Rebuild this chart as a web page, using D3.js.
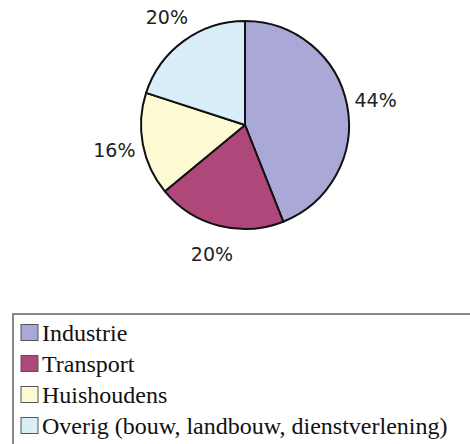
<!DOCTYPE html>
<meta charset="utf-8">
<html>
<head>
    <title>Energieverbruik per sector</title>
    <script type="text/javascript" src="https://cdn.jsdelivr.net/npm/d3@7/dist/d3.min.js"></script>
    <style type="text/css">
        html, body {
            padding: 0px;
            margin: 0px;
            background: #fff;
        }
    </style>
</head>
<body>
    <svg id="svg"></svg>
    <script type="text/javascript">
        // data
        var categories = ["Industrie", "Transport", "Huishoudens", "Overig (bouw, landbouw, dienstverlening)"]
        var values = [44, 20, 16, 20]
        var colors = ["#aaa8d6", "#b0477b", "#fdfbd4", "#d9eef8"]

        var width = 470
        var height = 444
        var svg = d3.select('#svg').attr('width', width).attr('height', height)

        var cx = 245, cy = 125, radius = 104, labelRadius = 133

        var pie = d3.pie().sort(null).value(function (d) { return d })
        var arcs = pie(values)
        var arc = d3.arc().innerRadius(0).outerRadius(radius)
        var labelArc = d3.arc().innerRadius(labelRadius).outerRadius(labelRadius)

        var g = svg.append('g').attr('transform', 'translate(' + cx + ',' + cy + ')')

        g.selectAll('path')
          .data(arcs)
          .enter().append('path')
            .attr('d', arc)
            .attr('fill', function (d, i) { return colors[i] })
            .attr('stroke', '#111')
            .attr('stroke-width', 2)
            .attr('stroke-linejoin', 'round')

        g.selectAll('text')
          .data(arcs)
          .enter().append('text')
            .attr('transform', function (d) { return 'translate(' + labelArc.centroid(d) + ')' })
            .attr('text-anchor', 'middle')
            .attr('dy', '0.36em')
            .attr('font-family', 'DejaVu Sans, sans-serif')
            .attr('font-size', 19)
            .attr('fill', '#222')
            .text(function (d) { return d.data + '%' })

        // legend
        var legend = svg.append('g')
        legend.append('rect')
          .attr('x', 13).attr('y', 314)
          .attr('width', 470).attr('height', 200)
          .attr('fill', '#fff')
          .attr('stroke', '#888')
          .attr('stroke-width', 2)

        var rowY = d3.scaleBand().domain(categories).range([317, 441])

        var item = legend.selectAll('.item')
          .data(categories)
          .enter().append('g')
            .attr('class', 'item')
            .attr('transform', function (d) { return 'translate(0,' + (rowY(d) + rowY.bandwidth() / 2) + ')' })

        item.append('rect')
          .attr('x', 21).attr('y', -8)
          .attr('width', 17).attr('height', 16)
          .attr('fill', function (d, i) { return colors[i] })
          .attr('stroke', '#555')
          .attr('stroke-width', 1)

        item.append('text')
          .attr('x', 42)
          .attr('dy', '0.35em')
          .attr('font-family', 'Liberation Serif, Times New Roman, serif')
          .attr('font-size', 24)
          .attr('fill', '#111')
          .text(function (d) { return d })
    </script>
</body>
</html>
